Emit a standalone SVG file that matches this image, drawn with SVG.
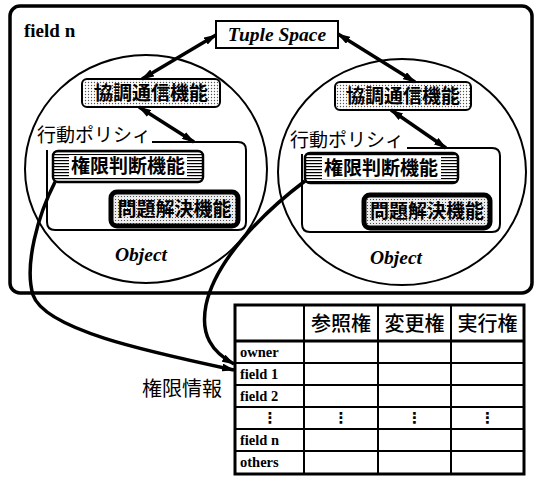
<svg xmlns="http://www.w3.org/2000/svg" width="536" height="481" viewBox="0 0 536 481">
<style>
.ln{fill:none;stroke:#000;stroke-width:2}
.arr{fill:none;stroke:#000;stroke-width:3.5}
.jp{font-family:"Noto Sans CJK JP","Noto Sans",sans-serif;fill:#000}
.jb{font-family:"Noto Sans CJK JP","Noto Sans",sans-serif;font-weight:bold;font-size:19px;fill:#000;text-anchor:middle}
.se{font-family:"Liberation Serif",serif;font-weight:bold;fill:#000}
.obj{font-family:"Liberation Serif",serif;font-weight:bold;font-style:italic;font-size:19.5px;text-anchor:middle;fill:#000}
.rl{font-family:"Liberation Serif",serif;font-weight:bold;font-size:14.5px;fill:#000}
.hd{font-family:"Noto Sans CJK JP",sans-serif;font-size:20px;font-weight:500;text-anchor:middle;fill:#000}
.vd{font-family:"DejaVu Sans",sans-serif;font-weight:bold;font-size:15px;text-anchor:middle;fill:#000}
</style>
<defs>
<pattern id="dots" width="3" height="3" patternUnits="userSpaceOnUse">
<rect width="3" height="3" fill="#fff"/>
<circle cx="1.5" cy="1.5" r="0.7" fill="#555"/>
</pattern>
<pattern id="dots2" width="3" height="3" patternUnits="userSpaceOnUse">
<rect width="3" height="3" fill="#eee"/>
<circle cx="1.5" cy="1.5" r="0.6" fill="#333"/>
</pattern>
<pattern id="stripes" width="4" height="3" patternUnits="userSpaceOnUse">
<rect width="4" height="3" fill="#fff"/>
<rect y="1" width="4" height="1.2" fill="#000"/>
</pattern>
<marker id="ah" markerUnits="userSpaceOnUse" viewBox="0 0 13 8" refX="12" refY="4" markerWidth="13" markerHeight="8" orient="auto-start-reverse">
<path d="M0,0 L13,4 L0,8 z" fill="#000"/>
</marker>
</defs>

<g id="field">
<rect x="10" y="6" width="522" height="287" rx="10" fill="none" stroke="#000" stroke-width="3.5"/>
<text class="se" x="24" y="37" font-size="19">field n</text>
</g>

<g id="object-left">
<ellipse cx="146" cy="169" rx="121" ry="114" class="ln"/>
<text class="obj" x="141" y="261">Object</text>
</g>
<g id="object-right">
<ellipse cx="402" cy="172" rx="124" ry="113" class="ln"/>
<text class="obj" x="396" y="264">Object</text>
</g>

<g id="tuple-space">
<rect x="216" y="21" width="122" height="27" fill="#fff" stroke="#000" stroke-width="2"/>
<text class="obj" x="277" y="41" font-size="19">Tuple Space</text>
</g>

<g id="policy-left">
<path class="ln" d="M152,142 H238 Q246,142 246,150 V222 Q246,230 238,230 H55 Q47,230 47,222 V150"/>
<text class="jp" x="37" y="142" font-size="19">行動ポリシィ</text>
</g>
<g id="policy-right">
<path class="ln" d="M407,148 H492 Q500,148 500,156 V224 Q500,232 492,232 H310 Q302,232 302,224 V154"/>
<text class="jp" x="290" y="147" font-size="19">行動ポリシィ</text>
</g>

<g id="comm-left">
<rect x="82" y="79" width="138" height="28" rx="5" fill="url(#dots)" stroke="#000" stroke-width="2"/>
<text class="jb" x="151" y="100">協調通信機能</text>
</g>
<g id="comm-right">
<rect x="335" y="82" width="136" height="28" rx="5" fill="url(#dots)" stroke="#000" stroke-width="2"/>
<text class="jb" x="403" y="103">協調通信機能</text>
</g>

<g id="auth-left">
<rect x="53" y="151" width="150" height="31" rx="5" fill="url(#stripes)" stroke="#000" stroke-width="2.5"/>
<rect x="69" y="155" width="118" height="23" fill="#fff"/>
<text class="jb" x="128" y="173">権限判断機能</text>
</g>
<g id="auth-right">
<rect x="305" y="153" width="153" height="30" rx="5" fill="url(#stripes)" stroke="#000" stroke-width="2.5"/>
<rect x="322" y="157" width="119" height="22" fill="#fff"/>
<text class="jb" x="381" y="175">権限判断機能</text>
</g>

<g id="solve-left">
<rect x="111" y="192" width="127" height="34" rx="6" fill="url(#dots2)" stroke="#000" stroke-width="5"/>
<text class="jb" x="174.5" y="216">問題解決機能</text>
</g>
<g id="solve-right">
<rect x="364" y="195" width="126" height="33" rx="6" fill="url(#dots2)" stroke="#000" stroke-width="5"/>
<text class="jb" x="427" y="218">問題解決機能</text>
</g>

<g id="auth-table">
<rect x="235" y="305" width="289" height="169" fill="#fff" stroke="#000" stroke-width="3"/>
<path class="ln" d="M304,305 V474 M378,305 V474 M451,305 V474 M235,363 H524 M235,385 H524 M235,407 H524 M235,429 H524 M235,451 H524"/>
<path d="M235,341 H524" stroke="#000" stroke-width="3"/>
<text class="hd" x="341" y="331">参照権</text>
<text class="hd" x="414.5" y="331">変更権</text>
<text class="hd" x="487.5" y="331">実行権</text>
<text class="rl" x="240" y="357">owner</text>
<text class="rl" x="240" y="379">field 1</text>
<text class="rl" x="240" y="401">field 2</text>
<text class="vd" x="270" y="423">⋮</text>
<text class="vd" x="341" y="423">⋮</text>
<text class="vd" x="414.5" y="423">⋮</text>
<text class="vd" x="487.5" y="423">⋮</text>
<text class="rl" x="240" y="445">field n</text>
<text class="rl" x="240" y="467">others</text>
<text class="jp" x="142" y="396" font-size="20">権限情報</text>
</g>

<g id="connectors">
<path class="arr" d="M216,35 L142,79" marker-start="url(#ah)" marker-end="url(#ah)"/>
<path class="arr" d="M338,34 L415,82" marker-start="url(#ah)" marker-end="url(#ah)"/>
<path class="arr" d="M139,107 L194,142" marker-start="url(#ah)" marker-end="url(#ah)"/>
<path class="arr" d="M391,110 L446,148" marker-start="url(#ah)" marker-end="url(#ah)"/>
<path class="arr" d="M55,182 C38,215 24,265 33,295 C45,330 150,352 234,370" marker-end="url(#ah)"/>
<path class="arr" d="M305,181 C260,215 215,262 206,305 C200,335 212,352 234,364" marker-end="url(#ah)"/>
</g>
</svg>
